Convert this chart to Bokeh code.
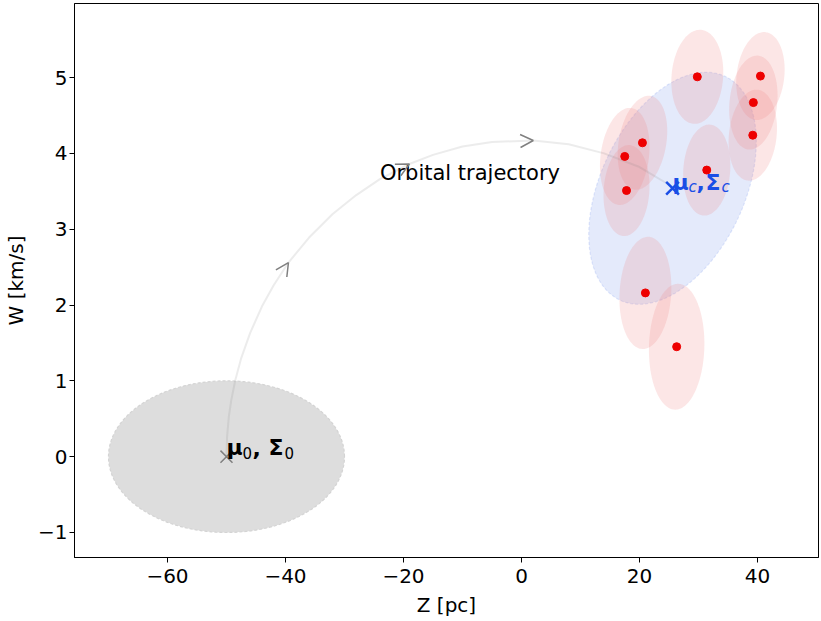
import numpy as np
from bokeh.plotting import figure
from bokeh.models import Range1d, FixedTicker, ColumnDataSource, Arrow, OpenHead
from bokeh.embed import file_html
from bokeh.resources import INLINE
from bokeh.core.properties import value

# Birth-time cluster: mean (Z, W) and covariance as (sigma_Z, sigma_W, correlation)
mu0 = (-50.0, 0.0)
cov0 = (20.0, 1.0, 0.0)

# Present-day cluster
muc = (25.6, 3.54)
covc = (14.2, 1.53, 0.40)

# Member stars with their individual uncertainty ellipses
star_z = [29.8, 40.5, 39.3, 39.2, 20.5, 17.5, 31.4, 17.8, 21.0, 26.3]
star_w = [5.01, 5.02, 4.67, 4.24, 4.14, 3.96, 3.78, 3.51, 2.16, 1.45]
star_sig_z = [4.4, 4.1, 4.1, 4.1, 4.2, 4.2, 4.0, 3.9, 4.4, 4.7]
star_sig_w = [0.62, 0.58, 0.62, 0.60, 0.62, 0.64, 0.60, 0.60, 0.74, 0.83]
star_rho = [0.10, 0.15, 0.15, 0.15, 0.25, 0.20, 0.10, 0.10, 0.10, 0.05]

# Orbit of the cluster centre in the Z-W plane
traj_z = [-50.0, -49.9, -49.6, -49.2, -48.5, -47.5, -46.0, -44.0, -42.0,
          -39.5, -36.0, -32.0, -28.0, -24.0, -19.0, -15.0, -10.0, -5.0,
          2.0, 8.0, 14.0, 20.0, 25.6]
traj_w = [0.00, 0.26, 0.53, 0.74, 1.01, 1.30, 1.63, 1.98, 2.26,
          2.56, 2.89, 3.20, 3.45, 3.66, 3.86, 3.98, 4.09, 4.15,
          4.17, 4.12, 4.00, 3.82, 3.56]
arrow_idx = [9, 14, 18]

x_ticks = [-60, -40, -20, 0, 20, 40]
y_ticks = [-1, 0, 1, 2, 3, 4, 5]

FONT = "DejaVu Sans"
BLUE = "#1a4ee6"


def ellipse(cx, cy, sx, sy, rho, n=160):
    t = np.linspace(0.0, 2.0 * np.pi, n)
    x = cx + sx * np.cos(t)
    y = cy + sy * (rho * np.cos(t) + np.sqrt(1.0 - rho ** 2) * np.sin(t))
    return x, y


p = figure(width=821, height=621, output_backend="svg", toolbar_location=None,
           x_range=Range1d(-75.76, 50.34), y_range=Range1d(-1.33, 5.977),
           min_border_left=74, min_border_right=3, min_border_top=3,
           min_border_bottom=64)
p.background_fill_color = "white"
p.border_fill_color = "white"
p.outline_line_color = "black"
p.outline_line_width = 1
p.xgrid.visible = False
p.ygrid.visible = False

# initial distribution
gx, gy = ellipse(mu0[0], mu0[1], *cov0)
p.patch(gx, gy, fill_color="#dddddd", line_color="#d4d4d4", line_width=1.2,
        line_dash="3 2")

# present-day distribution
bx, by = ellipse(muc[0], muc[1], *covc)
p.patch(bx, by, fill_color="royalblue", fill_alpha=0.14, line_color="royalblue",
        line_alpha=0.14, line_width=1.2, line_dash="3 2")

# star uncertainty ellipses
exs, eys = [], []
for cz, cw, sz, sw, r in zip(star_z, star_w, star_sig_z, star_sig_w, star_rho):
    ex, ey = ellipse(cz, cw, sz, sw, r)
    exs.append(list(ex))
    eys.append(list(ey))
p.patches(exs, eys, fill_color="lightcoral", fill_alpha=0.2, line_color=None)

# orbital trajectory
p.line(traj_z, traj_w, line_color="gray", line_alpha=0.15, line_width=2)
for i in arrow_idx:
    p.add_layout(Arrow(end=OpenHead(size=13, line_color="gray", line_width=1.5),
                       x_start=traj_z[i - 1], y_start=traj_w[i - 1],
                       x_end=traj_z[i], y_end=traj_w[i], line_alpha=0))

p.text([-24.0], [3.74], text=["Orbital trajectory"], text_font=value(FONT),
       text_font_size="21px", text_color="black", text_baseline="middle",
       text_align="left")

# cluster centres
p.scatter([mu0[0]], [mu0[1]], marker="x", size=17, line_color="gray",
          line_width=1.5)
p.scatter([muc[0]], [muc[1]], marker="x", size=18, line_color=BLUE,
          line_width=2.5)

# stars
p.scatter(star_z, star_w, size=8, fill_color="#ee0000", line_color="#ee0000")


def math_label(x, y, sub, sub_style, color, gaps, lift):
    d_sub, d_comma, d_sig, d_sub2 = gaps
    pieces = [("μ", "bold", "22px", 0, -lift),
              (sub, sub_style, "15px", d_sub, 5 - lift),
              (",", "bold", "22px", d_comma, -lift),
              ("Σ", "bold", "22px", d_sig, -lift),
              (sub, sub_style, "15px", d_sub2, 5 - lift)]
    src = ColumnDataSource(dict(
        x=[x] * len(pieces), y=[y] * len(pieces),
        t=[q[0] for q in pieces], st=[q[1] for q in pieces],
        fs=[q[2] for q in pieces], dx=[q[3] for q in pieces],
        dy=[q[4] for q in pieces]))
    p.text("x", "y", text="t", source=src, text_font=value(FONT),
           text_font_style="st", text_font_size="fs", x_offset="dx",
           y_offset="dy", text_color=color, text_baseline="middle",
           text_align="left")


math_label(mu0[0], mu0[1], "0", "normal", "black", (16, 26, 42, 58), 9)
math_label(muc[0], muc[1], "c", "italic", BLUE, (16, 24, 33, 49), 6)

# axes
for ax in (p.xaxis[0], p.yaxis[0]):
    ax.axis_line_color = "black"
    ax.major_tick_line_color = "black"
    ax.major_tick_out = 5
    ax.major_tick_in = 0
    ax.minor_tick_line_color = None
    ax.major_label_text_font = FONT
    ax.major_label_text_font_size = "20px"
    ax.major_label_text_color = "black"
    ax.axis_label_text_font = FONT
    ax.axis_label_text_font_size = "20px"
    ax.axis_label_text_font_style = "normal"
    ax.axis_label_text_color = "black"

p.xaxis.ticker = FixedTicker(ticks=x_ticks)
p.yaxis.ticker = FixedTicker(ticks=y_ticks)
p.xaxis.major_label_overrides = {t: str(t).replace("-", "\u2212") for t in x_ticks}
p.yaxis.major_label_overrides = {t: str(t).replace("-", "\u2212") for t in y_ticks}
p.xaxis.axis_label = "Z [pc]"
p.yaxis.axis_label = "W [km/s]"
p.xaxis.major_label_standoff = 6
p.yaxis.major_label_standoff = 2
p.xaxis.axis_label_standoff = 7
p.yaxis.axis_label_standoff = 7

open("out.html", "w").write(file_html(p, INLINE))
